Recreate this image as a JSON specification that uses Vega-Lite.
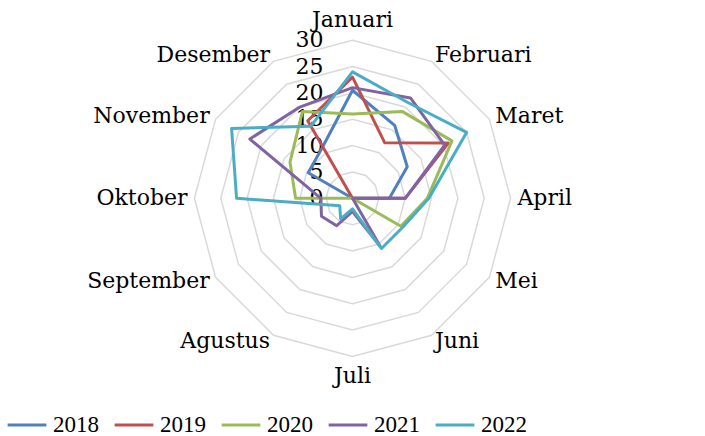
{
  "$schema": "https://vega.github.io/schema/vega-lite/v6.json",
  "width": 705,
  "height": 436,
  "autosize": "none",
  "padding": 0,
  "background": "white",
  "config": {
    "view": {"stroke": null},
    "font": "DejaVu Serif",
    "legend": {
      "orient": "none",
      "legendX": 6,
      "legendY": 404,
      "direction": "horizontal",
      "title": null,
      "symbolType": "stroke",
      "symbolSize": 1500,
      "symbolStrokeWidth": 3,
      "labelFont": "Liberation Serif",
      "labelFontSize": 23,
      "labelColor": "#000000",
      "labelOffset": 5,
      "columnPadding": 9,
      "padding": 0
    }
  },
  "datasets": {
    "series": [
      {"month": "Januari", "year": "2018", "value": 20.5},
      {"month": "Februari", "year": "2018", "value": 16},
      {"month": "Maret", "year": "2018", "value": 12},
      {"month": "April", "year": "2018", "value": 7},
      {"month": "Mei", "year": "2018", "value": 0},
      {"month": "Juni", "year": "2018", "value": 0},
      {"month": "Juli", "year": "2018", "value": 0},
      {"month": "Agustus", "year": "2018", "value": 0},
      {"month": "September", "year": "2018", "value": 0},
      {"month": "Oktober", "year": "2018", "value": 0},
      {"month": "November", "year": "2018", "value": 9.7},
      {"month": "Desember", "year": "2018", "value": 11.3},
      {"month": "Januari", "year": "2019", "value": 23},
      {"month": "Februari", "year": "2019", "value": 12.2},
      {"month": "Maret", "year": "2019", "value": 21},
      {"month": "April", "year": "2019", "value": 10},
      {"month": "Mei", "year": "2019", "value": 0},
      {"month": "Juni", "year": "2019", "value": 0},
      {"month": "Juli", "year": "2019", "value": 0},
      {"month": "Agustus", "year": "2019", "value": 0},
      {"month": "September", "year": "2019", "value": 0},
      {"month": "Oktober", "year": "2019", "value": 0},
      {"month": "November", "year": "2019", "value": 0},
      {"month": "Desember", "year": "2019", "value": 17},
      {"month": "Januari", "year": "2020", "value": 16},
      {"month": "Februari", "year": "2020", "value": 19},
      {"month": "Maret", "year": "2020", "value": 21.8},
      {"month": "April", "year": "2020", "value": 14.2},
      {"month": "Mei", "year": "2020", "value": 10.6},
      {"month": "Juni", "year": "2020", "value": 0},
      {"month": "Juli", "year": "2020", "value": 0},
      {"month": "Agustus", "year": "2020", "value": 0},
      {"month": "September", "year": "2020", "value": 0},
      {"month": "Oktober", "year": "2020", "value": 10.8},
      {"month": "November", "year": "2020", "value": 13.7},
      {"month": "Desember", "year": "2020", "value": 19},
      {"month": "Januari", "year": "2021", "value": 21},
      {"month": "Februari", "year": "2021", "value": 22},
      {"month": "Maret", "year": "2021", "value": 20.2},
      {"month": "April", "year": "2021", "value": 10},
      {"month": "Mei", "year": "2021", "value": 0},
      {"month": "Juni", "year": "2021", "value": 10.5},
      {"month": "Juli", "year": "2021", "value": 2.5},
      {"month": "Agustus", "year": "2021", "value": 6},
      {"month": "September", "year": "2021", "value": 6.8},
      {"month": "Oktober", "year": "2021", "value": 6},
      {"month": "November", "year": "2021", "value": 22.5},
      {"month": "Desember", "year": "2021", "value": 20},
      {"month": "Januari", "year": "2022", "value": 24},
      {"month": "Februari", "year": "2022", "value": 21},
      {"month": "Maret", "year": "2022", "value": 25},
      {"month": "April", "year": "2022", "value": 14.5},
      {"month": "Mei", "year": "2022", "value": 11},
      {"month": "Juni", "year": "2022", "value": 11},
      {"month": "Juli", "year": "2022", "value": 2},
      {"month": "Agustus", "year": "2022", "value": 4.5},
      {"month": "September", "year": "2022", "value": 2.8},
      {"month": "Oktober", "year": "2022", "value": 22},
      {"month": "November", "year": "2022", "value": 26.5},
      {"month": "Desember", "year": "2022", "value": 15.8}
    ],
    "grid": [
      {"month": "Januari", "r": [5, 10, 15, 20, 25, 30]},
      {"month": "Februari", "r": [5, 10, 15, 20, 25, 30]},
      {"month": "Maret", "r": [5, 10, 15, 20, 25, 30]},
      {"month": "April", "r": [5, 10, 15, 20, 25, 30]},
      {"month": "Mei", "r": [5, 10, 15, 20, 25, 30]},
      {"month": "Juni", "r": [5, 10, 15, 20, 25, 30]},
      {"month": "Juli", "r": [5, 10, 15, 20, 25, 30]},
      {"month": "Agustus", "r": [5, 10, 15, 20, 25, 30]},
      {"month": "September", "r": [5, 10, 15, 20, 25, 30]},
      {"month": "Oktober", "r": [5, 10, 15, 20, 25, 30]},
      {"month": "November", "r": [5, 10, 15, 20, 25, 30]},
      {"month": "Desember", "r": [5, 10, 15, 20, 25, 30]}
    ],
    "ticks": [
      {"v": 0}, {"v": 5}, {"v": 10}, {"v": 15}, {"v": 20}, {"v": 25}, {"v": 30}
    ]
  },
  "layer": [
    {
      "data": {"name": "grid"},
      "transform": [
        {"flatten": ["r"]},
        {"calculate": "indexof(['Januari','Februari','Maret','April','Mei','Juni','Juli','Agustus','September','Oktober','November','Desember'], datum.month)", "as": "idx"},
        {"calculate": "datum.r*sin(datum.idx*PI/6)", "as": "px"},
        {"calculate": "datum.r*cos(datum.idx*PI/6)", "as": "py"}
      ],
      "mark": {"type": "line", "interpolate": "linear-closed", "stroke": "#d9d9d9", "strokeWidth": 1.5},
      "encoding": {
        "x": {"field": "px", "type": "quantitative", "scale": {"domain": [-66.9, 66.9], "nice": false, "zero": false}, "axis": null},
        "y": {"field": "py", "type": "quantitative", "scale": {"domain": [-45.1, 37.63], "nice": false, "zero": false}, "axis": null},
        "detail": {"field": "r", "type": "nominal"},
        "order": {"field": "idx", "type": "quantitative"}
      }
    },
    {
      "data": {"name": "ticks"},
      "mark": {"type": "text", "align": "right", "baseline": "middle", "dx": -29, "fontSize": 22, "font": "DejaVu Serif", "color": "#000000"},
      "encoding": {
        "x": {"datum": 0, "type": "quantitative", "scale": {"domain": [-66.9, 66.9], "nice": false, "zero": false}, "axis": null},
        "y": {"field": "v", "type": "quantitative", "scale": {"domain": [-45.1, 37.63], "nice": false, "zero": false}, "axis": null},
        "text": {"field": "v", "type": "quantitative"}
      }
    },
    {
      "data": {"name": "series"},
      "transform": [
        {"calculate": "indexof(['Januari','Februari','Maret','April','Mei','Juni','Juli','Agustus','September','Oktober','November','Desember'], datum.month)", "as": "idx"},
        {"calculate": "datum.value*sin(datum.idx*PI/6)", "as": "px"},
        {"calculate": "datum.value*cos(datum.idx*PI/6)", "as": "py"}
      ],
      "mark": {"type": "line", "interpolate": "linear-closed", "strokeWidth": 3, "strokeJoin": "round"},
      "encoding": {
        "x": {"field": "px", "type": "quantitative", "scale": {"domain": [-66.9, 66.9], "nice": false, "zero": false}, "axis": null},
        "y": {"field": "py", "type": "quantitative", "scale": {"domain": [-45.1, 37.63], "nice": false, "zero": false}, "axis": null},
        "color": {"field": "year", "type": "nominal", "scale": {"domain": ["2018", "2019", "2020", "2021", "2022"], "range": ["#4F81BD", "#C0504D", "#9BBB59", "#8064A2", "#4BACC6"]}},
        "order": {"field": "idx", "type": "quantitative"}
      }
    },
    {
      "data": {"name": "grid"},
      "transform": [
        {"flatten": ["r"]},
        {"filter": "datum.r == 30"},
        {"calculate": "indexof(['Januari','Februari','Maret','April','Mei','Juni','Juli','Agustus','September','Oktober','November','Desember'], datum.month)", "as": "idx"},
        {"filter": "datum.idx >= 1 && datum.idx <= 5"},
        {"calculate": "31.3*sin(datum.idx*PI/6)", "as": "lx"},
        {"calculate": "31.3*cos(datum.idx*PI/6)", "as": "ly"}
      ],
      "mark": {"type": "text", "align": "left", "baseline": "middle", "fontSize": 22, "font": "DejaVu Serif", "color": "#000000"},
      "encoding": {
        "x": {"field": "lx", "type": "quantitative", "scale": {"domain": [-66.9, 66.9], "nice": false, "zero": false}, "axis": null},
        "y": {"field": "ly", "type": "quantitative", "scale": {"domain": [-45.1, 37.63], "nice": false, "zero": false}, "axis": null},
        "text": {"field": "month", "type": "nominal"}
      }
    },
    {
      "data": {"name": "grid"},
      "transform": [
        {"flatten": ["r"]},
        {"filter": "datum.r == 30"},
        {"calculate": "indexof(['Januari','Februari','Maret','April','Mei','Juni','Juli','Agustus','September','Oktober','November','Desember'], datum.month)", "as": "idx"},
        {"filter": "datum.idx >= 7"},
        {"calculate": "31.3*sin(datum.idx*PI/6)", "as": "lx"},
        {"calculate": "31.3*cos(datum.idx*PI/6)", "as": "ly"}
      ],
      "mark": {"type": "text", "align": "right", "baseline": "middle", "fontSize": 22, "font": "DejaVu Serif", "color": "#000000"},
      "encoding": {
        "x": {"field": "lx", "type": "quantitative", "scale": {"domain": [-66.9, 66.9], "nice": false, "zero": false}, "axis": null},
        "y": {"field": "ly", "type": "quantitative", "scale": {"domain": [-45.1, 37.63], "nice": false, "zero": false}, "axis": null},
        "text": {"field": "month", "type": "nominal"}
      }
    },
    {
      "data": {"name": "grid"},
      "transform": [
        {"flatten": ["r"]},
        {"filter": "datum.r == 30"},
        {"calculate": "indexof(['Januari','Februari','Maret','April','Mei','Juni','Juli','Agustus','September','Oktober','November','Desember'], datum.month)", "as": "idx"},
        {"filter": "datum.idx == 0 || datum.idx == 6"},
        {"calculate": "33.8*sin(datum.idx*PI/6)", "as": "lx"},
        {"calculate": "33.8*cos(datum.idx*PI/6)", "as": "ly"}
      ],
      "mark": {"type": "text", "align": "center", "baseline": "middle", "fontSize": 22, "font": "DejaVu Serif", "color": "#000000"},
      "encoding": {
        "x": {"field": "lx", "type": "quantitative", "scale": {"domain": [-66.9, 66.9], "nice": false, "zero": false}, "axis": null},
        "y": {"field": "ly", "type": "quantitative", "scale": {"domain": [-45.1, 37.63], "nice": false, "zero": false}, "axis": null},
        "text": {"field": "month", "type": "nominal"}
      }
    }
  ]
}
